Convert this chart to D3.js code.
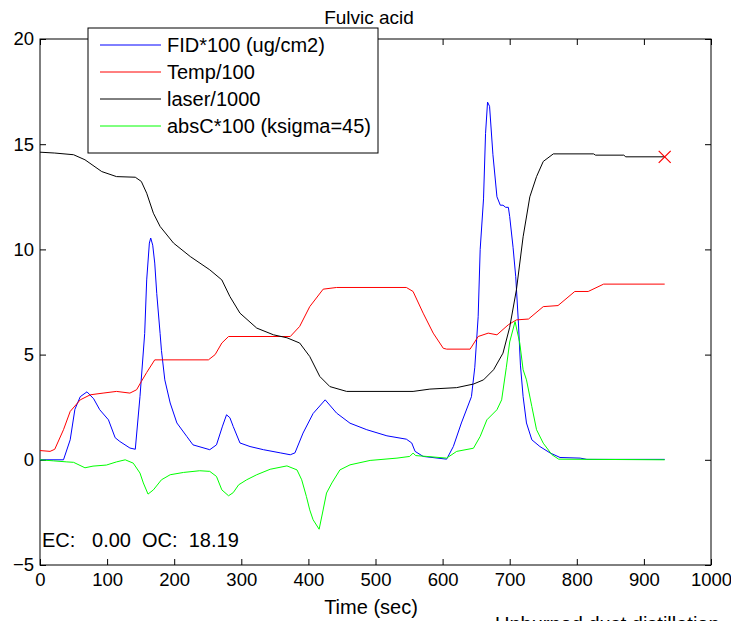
<!DOCTYPE html>
<html><head><meta charset="utf-8">
<script src="https://cdn.jsdelivr.net/npm/d3@7/dist/d3.min.js"></script>
<style>body{margin:0;background:#fff}svg{display:block;font-family:"Liberation Sans",Arial,sans-serif}</style>
</head><body>
<script>
const title = "Fulvic acid";
const xLabel = "Time (sec)";
const xTicks = [0,100,200,300,400,500,600,700,800,900,1000];
const yTicks = [-5,0,5,10,15,20];
const seriesNames = ["FID*100 (ug/cm2)","Temp/100","laser/1000","absC*100 (ksigma=45)"];
const seriesColors = ["#0000ff","#ff0000","#000000","#00ff00"];

const fidT = [0,35,45,52,60,70,80,89,102,112,119,134,142,149,156,159,163,165,168,171,174,179,181,186,194,204,219,228,253,263,272,278,283,288,298,313,333,358,373,380,392,407,425,442,462,487,517,546,554,559,571,606,616,628,643,648,653,656,661,664,667,670,675,681,686,690,694,698,700,705,709,713,716,720,725,733,745,760,775,805,815,931];
const fidY = [0,0,0.95,2.4,3.0,3.23,2.9,2.38,1.9,1.05,0.87,0.56,0.5,3.0,6.0,8.55,10.3,10.54,10.2,9.35,7.9,6.0,5.2,3.8,2.7,1.75,1.1,0.71,0.48,0.71,1.6,2.14,2.0,1.58,0.8,0.63,0.48,0.33,0.24,0.33,1.27,2.2,2.85,2.22,1.74,1.43,1.14,0.98,0.8,0.4,0.16,0.03,0.63,1.75,3.0,4.4,6.8,10.0,12.4,15.5,17.0,16.8,14.5,12.5,12.1,12.1,12.0,12.0,11.56,10.1,8.7,6.5,4.5,3.0,1.75,0.95,0.63,0.33,0.11,0.08,0.02,0.02];

const tempT = [0,15,22,35,45,60,75,94,114,134,144,151,159,171,251,261,271,281,373,387,402,422,442,546,556,571,586,601,606,641,653,668,681,698,710,728,750,772,797,817,840,931];
const tempY = [0.44,0.4,0.5,1.43,2.3,2.85,3.09,3.17,3.25,3.17,3.33,3.72,4.15,4.75,4.75,5.0,5.55,5.86,5.86,6.34,7.28,8.11,8.19,8.19,8.0,6.97,6.02,5.3,5.26,5.26,5.86,6.02,5.94,6.42,6.65,6.69,7.28,7.33,8.0,8.0,8.35,8.35];

const laserT = [0,22,50,67,92,114,142,151,159,169,179,199,224,253,271,283,298,323,348,368,387,402,417,432,457,556,581,621,646,661,676,690,700,710,720,730,740,750,765,825,828,870,873,931];
const laserY = [14.62,14.58,14.5,14.26,13.7,13.46,13.43,13.23,12.67,11.72,11.09,10.3,9.66,9.03,8.55,7.76,6.97,6.26,5.94,5.8,5.55,4.91,3.96,3.48,3.25,3.25,3.36,3.43,3.6,3.8,4.28,5.07,6.3,8.08,10.6,12.5,13.46,14.18,14.54,14.54,14.48,14.48,14.4,14.4];

const absT = [0,20,40,50,67,79,99,114,127,139,149,154,161,169,181,194,214,238,253,263,271,281,288,296,308,323,343,368,383,390,397,402,407,416,421,427,435,447,462,492,532,551,556,560,576,606,621,646,656,666,681,688,695,700,708,715,720,725,733,740,750,763,773,931];
const absY = [0,-0.05,-0.1,-0.12,-0.38,-0.3,-0.25,-0.1,0,-0.16,-0.63,-1.1,-1.63,-1.43,-0.95,-0.71,-0.6,-0.52,-0.55,-0.79,-1.43,-1.71,-1.56,-1.19,-0.95,-0.71,-0.45,-0.29,-0.48,-0.95,-1.74,-2.38,-2.85,-3.3,-2.53,-1.58,-1.1,-0.48,-0.24,-0.03,0.08,0.16,0.32,0.2,0.16,0.08,0.4,0.55,1.11,1.9,2.38,2.85,4.4,5.6,6.57,5.55,4.28,3.8,2.53,1.43,0.79,0.24,0.03,0];

const ecText = "EC:   0.00  OC:  18.19";
const footText = "Unburned dust distillation";

const W = 731, H = 621;
const L = 40, R = 711, T = 39, B = 565;
const FONT = "'Liberation Sans',Arial,sans-serif";
const svg = d3.select("body").append("svg").attr("width", W).attr("height", H);
const x = d3.scaleLinear().domain([0,1000]).range([L,R]);
const y = d3.scaleLinear().domain([-5,20]).range([B,T]);

svg.append("rect").attr("x",L).attr("y",T).attr("width",R-L).attr("height",B-T)
  .attr("fill","none").attr("stroke","#000").attr("stroke-width",1);

const fs = "20px";
const tfs = "18.5px";
const gx = svg.append("g").attr("transform",`translate(0,${B})`)
  .call(d3.axisBottom(x).tickValues(xTicks).tickSize(-6).tickPadding(8).tickFormat(d3.format("d")));
const gxt = svg.append("g").attr("transform",`translate(0,${T})`)
  .call(d3.axisTop(x).tickValues(xTicks).tickSize(-6).tickFormat(""));
const gy = svg.append("g").attr("transform",`translate(${L},0)`)
  .call(d3.axisLeft(y).tickValues(yTicks).tickSize(-6).tickPadding(6).tickFormat(d3.format("d")));
const gyr = svg.append("g").attr("transform",`translate(${R},0)`)
  .call(d3.axisRight(y).tickValues(yTicks).tickSize(-6).tickFormat(""));
[gx,gxt,gy,gyr].forEach(g=>{
  g.select(".domain").remove();
  g.selectAll("line").attr("stroke","#000");
  g.selectAll("text").attr("fill","#000").style("font-size",tfs).style("font-family",FONT);
});
gx.selectAll("text").attr("dy","0.71em");

const series = [[fidT,fidY],[tempT,tempY],[laserT,laserY],[absT,absY]];
const line = d3.line().x(d=>x(d[0])).y(d=>y(d[1]));
series.forEach((s,i)=>{
  const pts = s[0].map((t,j)=>[t,s[1][j]]);
  svg.append("path").datum(pts).attr("d",line).attr("fill","none")
    .attr("stroke",seriesColors[i]).attr("stroke-width",1).attr("stroke-linejoin","round");
});

const mx = x(laserT[laserT.length-1]), my = y(laserY[laserY.length-1]);
svg.append("path").attr("d",`M${mx-6},${my-6}L${mx+6},${my+6}M${mx-6},${my+6}L${mx+6},${my-6}`)
  .attr("stroke","#ff0000").attr("stroke-width",1.2).attr("fill","none");

const lg = svg.append("g");
lg.append("rect").attr("x",88).attr("y",28).attr("width",290).attr("height",125)
  .attr("fill","#fff").attr("stroke","#000").attr("stroke-width",1);
seriesNames.forEach((n,i)=>{
  const yy = 45 + i*27;
  lg.append("line").attr("x1",100).attr("x2",161).attr("y1",yy).attr("y2",yy)
    .attr("stroke",seriesColors[i]).attr("stroke-width",1);
  lg.append("text").attr("x",167).attr("y",yy).attr("dy","0.35em").style("font-size",fs).text(n);
});

svg.append("text").attr("x",369).attr("y",17).attr("text-anchor","middle").attr("dy","0.35em")
  .style("font-size","19px").text(title);
svg.append("text").attr("x",371).attr("y",607).attr("text-anchor","middle").attr("dy","0.35em")
  .style("font-size",fs).text(xLabel);
svg.append("text").attr("x",42).attr("y",540).attr("dy","0.35em").style("font-size",fs)
  .attr("xml:space","preserve").style("white-space","pre").text(ecText);
svg.append("text").attr("x",495).attr("y",631).style("font-size",fs).text(footText);
</script>
</body></html>
